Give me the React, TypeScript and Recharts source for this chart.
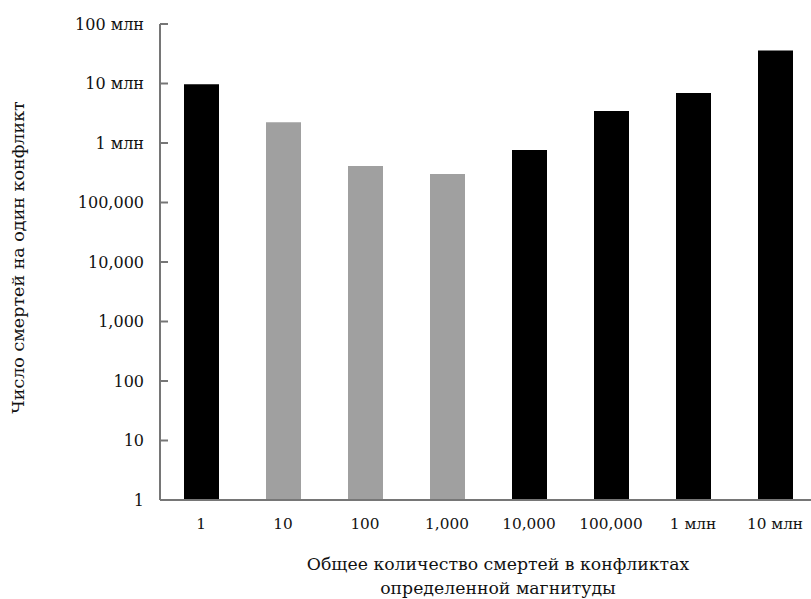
import React from 'react';
import { BarChart, Bar, XAxis, YAxis, Cell } from 'recharts';

const categories = ['1', '10', '100', '1,000', '10,000', '100,000', '1 млн', '10 млн'];
const deathsPerConflict = [9700000, 2230000, 410000, 300000, 760000, 3450000, 6900000, 36000000];
const group = ['main', 'minor', 'minor', 'minor', 'main', 'main', 'main', 'main'];
const yTicks = [1, 10, 100, 1000, 10000, 100000, 1000000, 10000000, 100000000];
const yTickLabels = ['1', '10', '100', '1,000', '10,000', '100,000', '1 млн', '10 млн', '100 млн'];

const data = categories.map((c, i) => ({ name: c, value: deathsPerConflict[i], group: group[i] }));

const FONT = '"DejaVu Serif", serif';
const AXIS = '#767676';
const TXT = '#111111';

const YTick = (props: any) => {
  const { x, y, payload } = props;
  const idx = yTicks.indexOf(payload.value);
  const label = idx >= 0 ? yTickLabels[idx] : String(payload.value);
  return (
    <g>
      <line x1={x} x2={x + 8} y1={y} y2={y} stroke={AXIS} strokeWidth={2} />
      <text x={x - 16} y={y + 5.5} textAnchor="end" fontFamily={FONT} fontSize={16} fill={TXT}>
        {label}
      </text>
    </g>
  );
};

const XTick = (props: any) => {
  const { x, y, payload } = props;
  return (
    <text x={x} y={y + 28.5} textAnchor="middle" fontFamily={FONT} fontSize={15.3} fill={TXT}>
      {payload.value}
    </text>
  );
};

const XLabel = () => (
  <text x={490} textAnchor="middle" fontFamily={FONT} fontSize={17.3} fill={TXT}>
    <tspan x={490} y={562}>Общее количество смертей в конфликтах</tspan>
    <tspan x={490} y={586}>определенной магнитуды</tspan>
  </text>
);

const YLabel = () => (
  <text
    x={10}
    y={249.5}
    transform="rotate(-90 10 249.5)"
    textAnchor="middle"
    dominantBaseline="central"
    fontFamily={FONT}
    fontSize={17.5}
    fill={TXT}
  >
    Число смертей на один конфликт
  </text>
);

export default function App() {
  return (
    <div style={{ position: 'absolute', left: 8, top: 8, width: 803, height: 591, overflow: 'hidden' }}>
      <BarChart
        width={808}
        height={591}
        data={data}
        margin={{ top: 16, right: 0, left: 0, bottom: 0 }}
      >
        <XAxis
          dataKey="name"
          height={99}
          tickLine={false}
          tickSize={0}
          tickMargin={0}
          axisLine={{ stroke: AXIS, strokeWidth: 2 }}
          tick={<XTick />}
          interval={0}
          label={{ content: () => <XLabel /> }}
        />
        <YAxis
          scale="log"
          domain={[1, 100000000]}
          ticks={yTicks}
          width={152}
          tickLine={false}
          tickSize={0}
          tickMargin={0}
          axisLine={{ stroke: AXIS, strokeWidth: 2 }}
          tick={<YTick />}
          interval={0}
          allowDataOverflow
          label={{ content: () => <YLabel /> }}
        />
        <Bar dataKey="value" barSize={35} isAnimationActive={false}>
          {data.map((d, i) => (
            <Cell key={i} fill={d.group === 'main' ? '#000000' : '#a0a0a0'} />
          ))}
        </Bar>
      </BarChart>
    </div>
  );
}
